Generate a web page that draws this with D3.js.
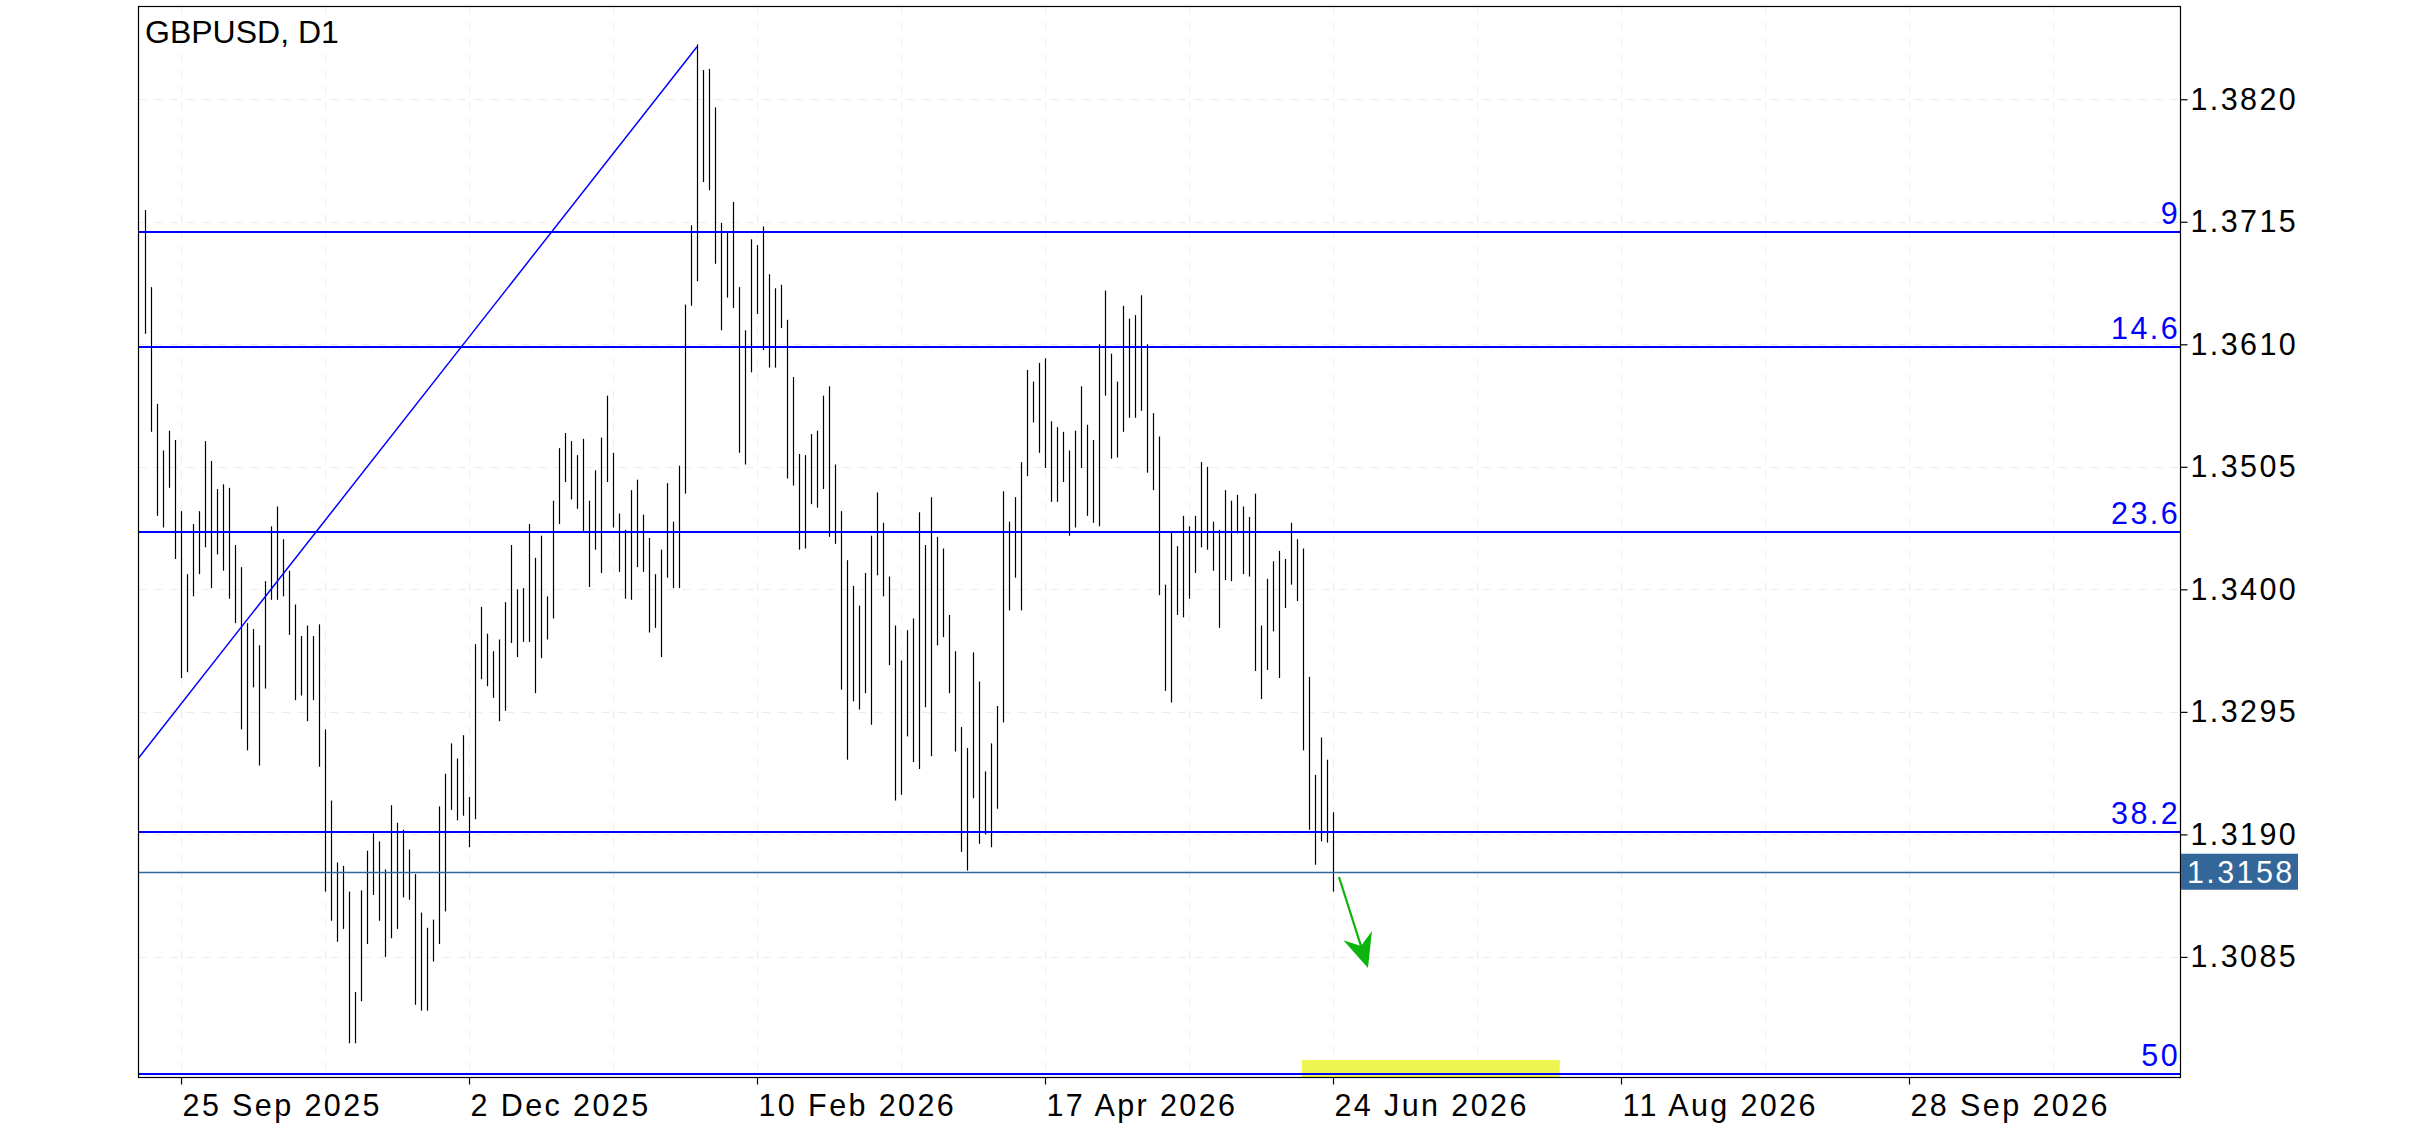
<!DOCTYPE html>
<html><head><meta charset="utf-8">
<script src="https://cdn.jsdelivr.net/npm/d3@7"></script>
<style>html,body{margin:0;padding:0;background:#fff;}svg{display:block}</style>
</head><body>
<svg id="c" width="2436" height="1125"></svg>
<script>
// ---------- data ----------
const title = "GBPUSD, D1";
const firstBarIndex = -6; // bar index relative to 25 Sep 2025
const highs = [1.3725,1.3659,1.3559,1.3519,1.3536,1.3528,
1.3467,1.3413,1.3456,1.3467,1.3527,1.3510,1.3486,1.3490,1.3487,1.3438,
1.3419,1.3371,1.3366,1.3352,1.3407,1.3454,1.3471,1.3443,1.3416,1.3387,
1.3360,1.3369,1.3360,1.3370,1.3280,1.3219,1.3166,1.3163,1.3141,1.3055,
1.3142,1.3176,1.3191,1.3184,1.3160,1.3215,1.3200,1.3194,1.3177,1.3156,
1.3123,1.3110,1.3117,1.3214,1.3242,1.3268,1.3255,1.3275,1.3222,1.3353,
1.3385,1.3362,1.3347,1.3357,1.3389,1.3438,1.3400,1.3401,1.3456,1.3427,
1.3446,1.3394,1.3476,1.3521,1.3534,1.3527,1.3515,1.3529,1.3476,1.3502,
1.3530,1.3566,1.3517,1.3465,1.3451,1.3485,1.3494,1.3464,1.3444,1.3413,
1.3434,1.3491,1.3458,1.3506,1.3644,1.3712,1.3867,1.3845,1.3846,1.3813,
1.3714,1.3706,1.3732,1.3659,1.3622,1.3700,1.3695,1.3711,1.3670,1.3658,
1.3661,1.3631,1.3582,1.3516,1.3515,1.3533,1.3536,1.3566,1.3574,1.3507,
1.3467,1.3425,1.3403,1.3386,1.3414,1.3446,1.3483,1.3457,1.3411,1.3369,
1.3339,1.3365,1.3375,1.3466,1.3438,1.3479,1.3445,1.3435,1.3378,1.3347,
1.3282,1.3264,1.3346,1.3321,1.3244,1.3268,1.3300,1.3484,1.3458,1.3479,
1.3509,1.3588,1.3578,1.3594,1.3598,1.3544,1.3539,1.3535,1.3519,1.3536,
1.3574,1.3541,1.3528,1.3610,1.3656,1.3602,1.3578,1.3643,1.3632,1.3635,
1.3652,1.3610,1.3551,1.3531,1.3404,1.3449,1.3437,1.3463,1.3454,1.3463,
1.3509,1.3505,1.3458,1.3451,1.3485,1.3476,1.3481,1.3471,1.3462,1.3482,
1.3369,1.3409,1.3424,1.3433,1.3426,1.3457,1.3443,1.3435,1.3325,1.3241,
1.3273,1.3254,1.3209];
const lows = [1.3619,1.3535,1.3463,1.3453,1.3487,1.3426,
1.3324,1.3329,1.3394,1.3413,1.3436,1.3401,1.3430,1.3416,1.3392,1.3371,
1.3280,1.3262,1.3316,1.3249,1.3315,1.3391,1.3391,1.3394,1.3361,1.3305,
1.3309,1.3287,1.3305,1.3248,1.3141,1.3116,1.3098,1.3109,1.3011,1.3011,
1.3047,1.3096,1.3138,1.3116,1.3085,1.3101,1.3109,1.3136,1.3134,1.3044,
1.3039,1.3039,1.3081,1.3096,1.3124,1.3211,1.3202,1.3206,1.3179,1.3203,
1.3323,1.3317,1.3307,1.3287,1.3296,1.3354,1.3342,1.3355,1.3355,1.3311,
1.3341,1.3357,1.3375,1.3456,1.3492,1.3477,1.3469,1.3449,1.3402,1.3434,
1.3414,1.3492,1.3453,1.3415,1.3392,1.3391,1.3419,1.3415,1.3363,1.3367,
1.3342,1.3410,1.3401,1.3401,1.3482,1.3643,1.3664,1.3749,1.3742,1.3679,
1.3622,1.3650,1.3641,1.3517,1.3507,1.3586,1.3636,1.3605,1.3590,1.3590,
1.3624,1.3495,1.3489,1.3434,1.3435,1.3473,1.3470,1.3486,1.3445,1.3439,
1.3314,1.3254,1.3304,1.3297,1.3311,1.3284,1.3412,1.3394,1.3335,1.3219,
1.3224,1.3274,1.3252,1.3246,1.3299,1.3257,1.3352,1.3359,1.3311,1.3261,
1.3175,1.3159,1.3221,1.3182,1.3190,1.3179,1.3212,1.3286,1.3382,1.3410,
1.3382,1.3497,1.3543,1.3517,1.3504,1.3475,1.3475,1.3492,1.3446,1.3453,
1.3504,1.3463,1.3457,1.3454,1.3566,1.3512,1.3513,1.3535,1.3547,1.3547,
1.3553,1.3500,1.3485,1.3395,1.3313,1.3303,1.3378,1.3376,1.3392,1.3414,
1.3436,1.3434,1.3416,1.3367,1.3408,1.3407,1.3448,1.3413,1.3411,1.3330,
1.3306,1.3331,1.3364,1.3324,1.3384,1.3404,1.3390,1.3262,1.3194,1.3164,
1.3184,1.3183,1.3141];
const dateTickIndex = [0, 48, 96, 144, 192, 240, 288];
const dateTickLabels = ["25 Sep 2025","2 Dec 2025","10 Feb 2026","17 Apr 2026","24 Jun 2026","11 Aug 2026","28 Sep 2026"];
const priceTicks = [1.3820, 1.3715, 1.3610, 1.3505, 1.3400, 1.3295, 1.3190, 1.3085];
const fibLevels = [9, 14.6, 23.6, 38.2, 50];
const fibLowIndex = -183, fibLowPrice = 1.21035;
const fibHighIndex = 86, fibHighPrice = 1.3865;
const currentPrice = 1.3158;
const arrowFrom = [193.0, 1.31535];
const arrowTo = [197.83, 1.30755];
const highlightRange = [186.8, 229.8];

// ---------- layout ----------
const W = 2436, H = 1125;
const L = 138, R = 2180, T = 6, B = 1077;
const FONT = "'Liberation Sans', Arial, Helvetica, sans-serif";
const FS = 30.5, LS = 2.4;

const svg = d3.select("#c");
const x = d3.scaleLinear().domain([-7.17, 333.17]).range([L, R]);
const y = d3.scaleLinear().domain([1.29821, 1.38999]).range([B, T]);
const crisp = v => Math.round(v) + 0.5;

svg.append("rect").attr("width", W).attr("height", H).attr("fill", "#fff");
svg.append("defs").append("clipPath").attr("id", "plot")
  .append("rect").attr("x", L).attr("y", T).attr("width", R - L).attr("height", B - T);

const plot = svg.append("g").attr("clip-path", "url(#plot)");

// grid
const gridX = d3.range(0, 333, 24);
plot.append("g").selectAll("line").data(gridX).join("line")
  .attr("x1", d => crisp(x(d))).attr("x2", d => crisp(x(d)))
  .attr("y1", T).attr("y2", B)
  .attr("stroke", "#ececec").attr("stroke-width", 1).attr("stroke-dasharray", "8,8");
plot.append("g").selectAll("line").data(priceTicks).join("line")
  .attr("x1", L).attr("x2", R)
  .attr("y1", d => crisp(y(d))).attr("y2", d => crisp(y(d)))
  .attr("stroke", "#ececec").attr("stroke-width", 1).attr("stroke-dasharray", "8,8");

// highlight box
plot.append("rect")
  .attr("x", x(highlightRange[0])).attr("width", x(highlightRange[1]) - x(highlightRange[0]))
  .attr("y", B - 17).attr("height", 17)
  .attr("fill", "#eef550");

// bars
const bars = highs.map((h, k) => ({i: firstBarIndex + k, h, l: lows[k]}));
plot.append("g").selectAll("line").data(bars).join("line")
  .attr("x1", d => crisp(x(d.i))).attr("x2", d => crisp(x(d.i)))
  .attr("y1", d => y(d.h)).attr("y2", d => y(d.l))
  .attr("stroke", "#000").attr("stroke-width", 1.2);

// fib levels
const fibRange = fibHighPrice - fibLowPrice;
const fibs = fibLevels.map(lv => ({lv, p: fibHighPrice - lv / 100 * fibRange}));
plot.append("g").selectAll("line").data(fibs).join("line")
  .attr("x1", L).attr("x2", R)
  .attr("y1", d => Math.round(y(d.p))).attr("y2", d => Math.round(y(d.p)))
  .attr("stroke", "#0000ff").attr("stroke-width", 2);

// fib trend line
plot.append("line")
  .attr("x1", x(fibLowIndex)).attr("y1", y(fibLowPrice))
  .attr("x2", x(fibHighIndex)).attr("y2", y(fibHighPrice))
  .attr("stroke", "#0000ff").attr("stroke-width", 1.5);

// current price line
plot.append("line")
  .attr("x1", L).attr("x2", R)
  .attr("y1", crisp(y(currentPrice))).attr("y2", crisp(y(currentPrice)))
  .attr("stroke", "#336699").attr("stroke-width", 1.3);

// arrow
const ax1 = x(arrowFrom[0]), ay1 = y(arrowFrom[1]);
const ax2 = x(arrowTo[0]), ay2 = y(arrowTo[1]);
const len = Math.hypot(ax2 - ax1, ay2 - ay1);
const ux = (ax2 - ax1) / len, uy = (ay2 - ay1) / len;
const px = -uy, py = ux;
const headL = 34, headW = 15, notch = 23;
plot.append("line")
  .attr("x1", ax1).attr("y1", ay1)
  .attr("x2", ax2 - ux * notch).attr("y2", ay2 - uy * notch)
  .attr("stroke", "#0bb50b").attr("stroke-width", 2.2);
plot.append("path")
  .attr("d", `M${ax2},${ay2} L${ax2 - ux*headL + px*headW},${ay2 - uy*headL + py*headW} L${ax2 - ux*notch},${ay2 - uy*notch} L${ax2 - ux*headL - px*headW},${ay2 - uy*headL - py*headW} Z`)
  .attr("fill", "#0bb50b");

// fib labels
svg.append("g").selectAll("text").data(fibs).join("text")
  .attr("x", R).attr("y", d => y(d.p) - 8)
  .attr("text-anchor", "end")
  .attr("font-family", FONT).attr("font-size", FS).attr("letter-spacing", LS)
  .attr("fill", "#0000ff")
  .text(d => d.lv);

// frame
svg.append("rect").attr("x", L + 0.5).attr("y", T + 0.5)
  .attr("width", R - L).attr("height", B - T)
  .attr("fill", "none").attr("stroke", "#000").attr("stroke-width", 1.2);

// y axis
const yAxis = svg.append("g").attr("transform", `translate(${R + 0.5},0)`)
  .call(d3.axisRight(y).tickValues(priceTicks).tickFormat(d3.format(".4f")).tickSize(7).tickSizeOuter(0).tickPadding(3));
yAxis.select(".domain").remove();
yAxis.selectAll("line").attr("stroke", "#000").attr("stroke-width", 1.2);
yAxis.selectAll("text").attr("font-family", FONT).attr("font-size", FS)
  .attr("letter-spacing", LS).attr("fill", "#000");

// x axis
const xAxis = svg.append("g").attr("transform", `translate(0,${B + 0.5})`)
  .call(d3.axisBottom(x).tickValues(dateTickIndex).tickFormat((d, k) => dateTickLabels[k]).tickSize(7).tickSizeOuter(0).tickPadding(4));
xAxis.select(".domain").remove();
xAxis.selectAll("line").attr("stroke", "#000").attr("stroke-width", 1.2);
xAxis.selectAll("text").attr("font-family", FONT).attr("font-size", FS)
  .attr("letter-spacing", LS).attr("fill", "#000")
  .attr("text-anchor", "start").attr("x", 1).attr("dy", "0.9em");

// current price label
const cpY = y(currentPrice);
svg.append("rect").attr("x", R + 1).attr("y", cpY - 18).attr("width", 117).attr("height", 36)
  .attr("fill", "#336699");
svg.append("text").attr("x", R + 7).attr("y", cpY).attr("dy", "0.36em")
  .attr("font-family", FONT).attr("font-size", FS).attr("letter-spacing", LS)
  .attr("fill", "#fff").text(d3.format(".4f")(currentPrice));

// title
svg.append("text").attr("x", 145).attr("y", 43)
  .attr("font-family", FONT).attr("font-size", 32).attr("fill", "#000")
  .text(title);
</script>
</body></html>
